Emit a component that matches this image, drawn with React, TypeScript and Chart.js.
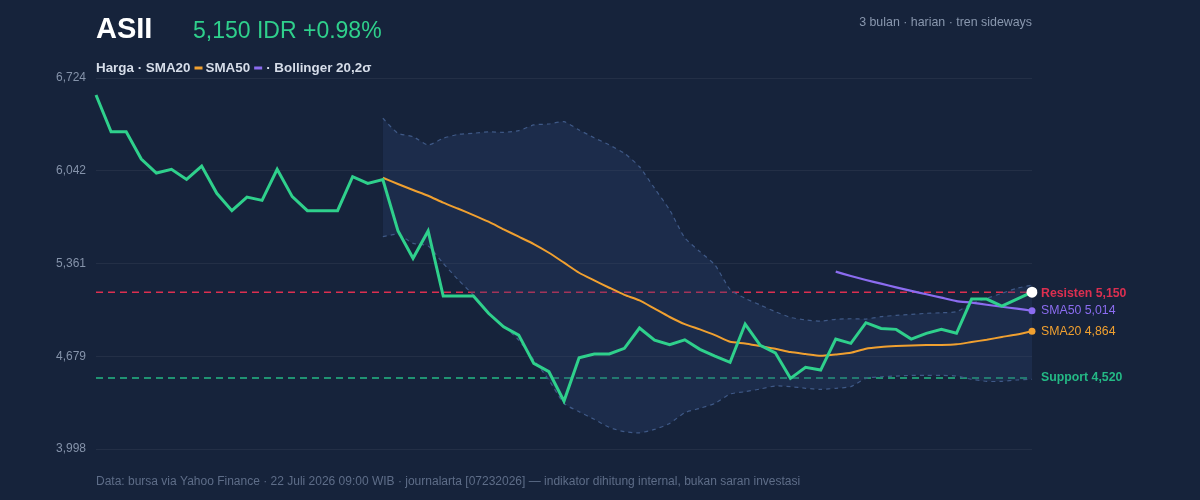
import { useEffect, useRef } from 'react';
import { Chart, registerables } from 'chart.js';

Chart.register(...registerables);

const FONT = '"Liberation Sans", Arial, Helvetica, sans-serif';

const TICKER = 'ASII';
const PRICE_TEXT = '5,150 IDR +0.98%';
const SUBTITLE = '3 bulan · harian · tren sideways';
const LEGEND_PARTS = ['Harga · SMA20', 'SMA50', '· Bollinger 20,2σ'];
const FOOTER =
  'Data: bursa via Yahoo Finance · 22 Juli 2026 09:00 WIB · journalarta [07232026] — indikator dihitung internal, bukan saran investasi';

const Y_MIN = 3998;
const Y_MAX = 6724;
const Y_TICKS = [3998, 4679.5, 5361, 6042.5, 6724];
const Y_TICK_LABELS = ['3,998', '4,679', '5,361', '6,042', '6,724'];

const RESISTANCE = 5150;
const SUPPORT = 4520;
const LAST_SMA50 = 5014;
const LAST_SMA20 = 4864;

// daily close (63 trading days)
const price = [
  6599, 6329, 6329, 6129, 6026, 6053, 5979, 6077, 5877, 5749,
  5849, 5825, 6053, 5852, 5749, 5749, 5749, 5999, 5950, 5977,
  5602, 5399, 5600, 5122, 5122, 5122, 4995, 4896, 4835, 4627,
  4566, 4350, 4669, 4696, 4696, 4738, 4887, 4798, 4764, 4800,
  4730, 4681, 4635, 4916, 4759, 4705, 4517, 4598, 4578, 4806,
  4774, 4926, 4884, 4877, 4806, 4848, 4877, 4848, 5100, 5100,
  5048, 5100, 5150,
];

const SMA20_START = 19;
const sma20 = [
  5991, 5945, 5901, 5859, 5808, 5763, 5717, 5668, 5612, 5558,
  5504, 5440, 5367, 5293, 5237, 5183, 5131, 5090, 5029, 4968,
  4915, 4877, 4835, 4786, 4774, 4754, 4735, 4710, 4696, 4683,
  4693, 4705, 4735, 4747, 4754, 4759, 4762, 4762, 4767, 4784,
  4801, 4821, 4840, 4864,
];

const SMA50_START = 49;
const sma50 = [
  5301, 5269, 5240, 5213, 5186, 5160, 5135, 5110, 5085, 5073,
  5058, 5043, 5029, 5014,
];

const BB_START = 19;
const bbUpper = [
  6428, 6318, 6293, 6232, 6281, 6310, 6318, 6329, 6325, 6337,
  6379, 6386, 6403, 6342, 6285, 6232, 6171, 6072, 5913, 5754,
  5550, 5448, 5350, 5171, 5105, 5056, 5007, 4965, 4946, 4938,
  4951, 4955, 4953, 4970, 4980, 4987, 4995, 4999, 5007, 5068,
  5105, 5142, 5179, 5203,
];
const bbLower = [
  5558, 5575, 5509, 5489, 5362, 5240, 5129, 4995, 4902, 4798,
  4652, 4505, 4333, 4272, 4216, 4157, 4125, 4117, 4142, 4186,
  4265, 4297, 4333, 4402, 4419, 4439, 4461, 4456, 4444, 4436,
  4444, 4456, 4517, 4529, 4534, 4539, 4539, 4539, 4534, 4510,
  4495, 4495, 4505, 4510,
];

const days = price.map((_, i) => `H${i + 1}`);

const COLORS = {
  bg: '#16233b',
  white: '#ffffff',
  green: '#2fd08c',
  orange: '#f0a030',
  purple: '#8b6cf0',
  red: '#dc2f50',
  support: '#24b985',
  band: '#3f5987',
  bandFill: 'rgba(45,65,110,0.32)',
  grid: 'rgba(255,255,255,0.06)',
  tick: '#8593aa',
  sub: '#8997ae',
  legend: '#d6dde9',
  footer: '#5e6d88',
};

const pad = (start: number, vals: number[]) =>
  (Array(start).fill(null) as (number | null)[]).concat(vals);

const lastOnly = (n: number, r: number) => (ctx: any) => (ctx.dataIndex === n - 1 ? r : 0);

export default function App() {
  const ref = useRef<HTMLCanvasElement | null>(null);

  useEffect(() => {
    if (!ref.current) return;
    const n = price.length;

    const overlay = {
      id: 'overlay',
      beforeDatasetsDraw(chart: any) {
        const { ctx, chartArea } = chart;
        const y = chart.scales.y;
        const drawLevel = (v: number, color: string) => {
          const py = y.getPixelForValue(v);
          ctx.save();
          ctx.strokeStyle = color;
          ctx.lineWidth = 1.6;
          ctx.setLineDash([7, 5]);
          ctx.beginPath();
          ctx.moveTo(chartArea.left, py);
          ctx.lineTo(chartArea.right, py);
          ctx.stroke();
          ctx.restore();
        };
        drawLevel(RESISTANCE, COLORS.red);
        drawLevel(SUPPORT, COLORS.support);
      },
      afterDraw(chart: any) {
        const { ctx, chartArea } = chart;
        const y = chart.scales.y;
        ctx.save();
        ctx.textBaseline = 'alphabetic';
        ctx.textAlign = 'left';
        // title
        ctx.fillStyle = COLORS.white;
        ctx.font = `bold 29px ${FONT}`;
        ctx.fillText(TICKER, chartArea.left, 38);
        ctx.fillStyle = COLORS.green;
        ctx.font = `23px ${FONT}`;
        ctx.fillText(PRICE_TEXT, 193, 38);
        // subtitle
        ctx.fillStyle = COLORS.sub;
        ctx.font = `12.4px ${FONT}`;
        ctx.textAlign = 'right';
        ctx.fillText(SUBTITLE, chartArea.right, 26);
        // legend
        ctx.textAlign = 'left';
        ctx.font = `bold 13.4px ${FONT}`;
        ctx.fillStyle = COLORS.legend;
        let x = chartArea.left;
        const ly = 72;
        const swatch = (c: string) => {
          ctx.fillStyle = c;
          ctx.fillRect(x, ly - 5.5, 8, 3);
          x += 8 + 3;
          ctx.fillStyle = COLORS.legend;
        };
        ctx.fillText(LEGEND_PARTS[0], x, ly);
        x += ctx.measureText(LEGEND_PARTS[0]).width + 4;
        swatch(COLORS.orange);
        ctx.fillText(LEGEND_PARTS[1], x, ly);
        x += ctx.measureText(LEGEND_PARTS[1]).width + 4;
        swatch(COLORS.purple);
        ctx.fillText(LEGEND_PARTS[2], x + 1, ly);
        // right labels
        ctx.textBaseline = 'middle';
        const lx = chartArea.right + 9;
        ctx.font = `bold 12.3px ${FONT}`;
        ctx.fillStyle = COLORS.red;
        ctx.fillText(`Resisten ${RESISTANCE.toLocaleString('en-US')}`, lx, y.getPixelForValue(RESISTANCE) + 1);
        ctx.fillStyle = COLORS.support;
        ctx.fillText(`Support ${SUPPORT.toLocaleString('en-US')}`, lx, y.getPixelForValue(SUPPORT));
        ctx.font = `12.3px ${FONT}`;
        ctx.fillStyle = COLORS.purple;
        ctx.fillText(`SMA50 ${LAST_SMA50.toLocaleString('en-US')}`, lx, y.getPixelForValue(LAST_SMA50));
        ctx.fillStyle = COLORS.orange;
        ctx.fillText(`SMA20 ${LAST_SMA20.toLocaleString('en-US')}`, lx, y.getPixelForValue(LAST_SMA20));
        // footer
        ctx.fillStyle = COLORS.footer;
        ctx.font = `12px ${FONT}`;
        ctx.fillText(FOOTER, chartArea.left, 482);
        ctx.restore();
      },
    };

    const chart = new Chart(ref.current, {
      type: 'line',
      data: {
        labels: days,
        datasets: [
          {
            label: 'Harga',
            data: price,
            borderColor: COLORS.green,
            borderWidth: 3,
            pointRadius: lastOnly(n, 5.5),
            pointBackgroundColor: COLORS.white,
            pointBorderWidth: 0,
            tension: 0,
            fill: false,
          },
          {
            label: 'SMA50',
            data: pad(SMA50_START, sma50),
            borderColor: COLORS.purple,
            borderWidth: 2.2,
            pointRadius: lastOnly(n, 3.5),
            pointBackgroundColor: COLORS.purple,
            pointBorderWidth: 0,
            tension: 0.2,
            fill: false,
          },
          {
            label: 'SMA20',
            data: pad(SMA20_START, sma20),
            borderColor: COLORS.orange,
            borderWidth: 2,
            pointRadius: lastOnly(n, 3.5),
            pointBackgroundColor: COLORS.orange,
            pointBorderWidth: 0,
            tension: 0.2,
            fill: false,
          },
          {
            label: 'BB upper',
            data: pad(BB_START, bbUpper),
            borderColor: COLORS.band,
            borderWidth: 1.2,
            borderDash: [4, 4],
            pointRadius: 0,
            tension: 0.2,
            fill: false,
          },
          {
            label: 'BB lower',
            data: pad(BB_START, bbLower),
            borderColor: COLORS.band,
            borderWidth: 1.2,
            borderDash: [4, 4],
            pointRadius: 0,
            tension: 0.2,
            fill: '-1',
            backgroundColor: COLORS.bandFill,
          },
        ],
      },
      options: {
        animation: false,
        responsive: true,
        maintainAspectRatio: false,
        devicePixelRatio: 1,
        layout: { padding: { top: 78, bottom: 51, right: 168, left: 0 } },
        plugins: {
          legend: { display: false },
          tooltip: { enabled: false },
          title: { display: false },
        },
        scales: {
          x: {
            type: 'category',
            display: false,
            offset: false,
            grid: { display: false },
          },
          y: {
            min: Y_MIN,
            max: Y_MAX,
            afterBuildTicks: (s: any) => {
              s.ticks = Y_TICKS.map((v) => ({ value: v }));
            },
            afterFit: (s: any) => {
              s.width = 96;
            },
            ticks: {
              callback: (_v: any, i: number) => Y_TICK_LABELS[i],
              color: COLORS.tick,
              font: { size: 12, family: FONT },
              padding: 10,
            },
            grid: { color: COLORS.grid, drawTicks: false, lineWidth: 1 },
            border: { display: false },
          },
        },
      },
      plugins: [overlay],
    });

    return () => chart.destroy();
  }, []);

  return (
    <div
      style={{
        position: 'fixed',
        left: 0,
        top: 0,
        width: 1200,
        height: 500,
        background: COLORS.bg,
      }}
    >
      <canvas ref={ref} />
    </div>
  );
}
